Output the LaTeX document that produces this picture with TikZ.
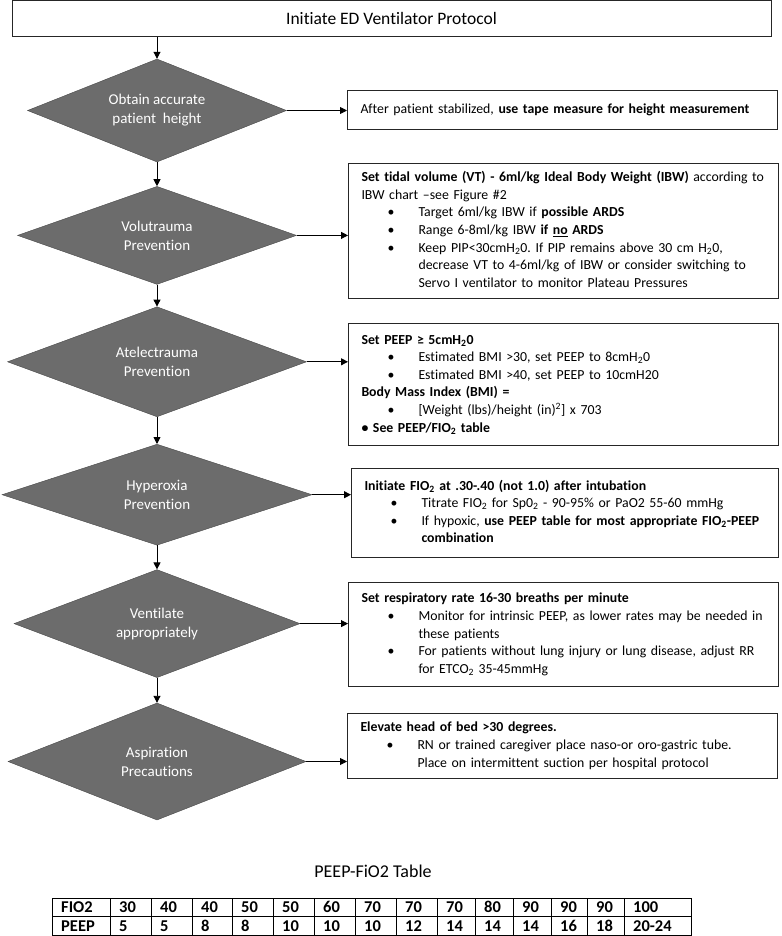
\documentclass[tikz,border=0pt]{standalone}
\usepackage{fontspec}
\setmainfont{Carlito}[Ligatures={NoCommon}]
\definecolor{DiaGrey}{RGB}{108,108,108}
\definecolor{EdgeGrey}{RGB}{72,72,72}
\usetikzlibrary{arrows.meta, positioning, shapes.geometric}
\newcommand{\hd}[1]{\multicolumn{3}{@{}l@{}}{#1}}
\newcommand{\sbt}[1]{\textsubscript{#1}}
\frenchspacing

\begin{document}
\begin{tikzpicture}[x=1pt, y=-1pt,
    node distance=24pt,
    titlebox/.style={rectangle, draw=black!85, line width=0.9pt, minimum width=759pt,
                     minimum height=36pt, font=\fontsize{17.5}{22}\selectfont},
    decision/.style={diamond, aspect=2.6, draw=EdgeGrey, fill=DiaGrey, inner sep=0pt,
                     text=white, align=center, font=\fontsize{15}{19}\selectfont},
    info/.style={rectangle, draw=black!85, line width=1pt, anchor=north west, text width=404pt,
                 inner xsep=13pt, inner ysep=0pt, align=left, font=\fontsize{13.8}{17.6}\selectfont},
    cell/.style={anchor=base west, inner sep=0pt, font=\fontsize{16.5}{17}\selectfont\bfseries},
    arrow/.style={-{Triangle[length=7pt, width=7pt]}, line width=0.9pt}
]
\useasboundingbox (0,0) rectangle (781,936);

\node[titlebox] (title) at (391.5, 18.75) {Initiate ED Ventilator Protocol};

% decisions down the left
\node[decision, minimum width=259pt, minimum height=103pt] (height) at (157, 110.5) {Obtain accurate\\patient\ \ height};
\node[decision, minimum width=279pt, minimum height=98pt, below=24pt of height] (volu) {Volutrauma\\Prevention};
\node[decision, minimum width=299pt, minimum height=110pt, below=22pt of volu] (atel) {Atelectrauma\\Prevention};
\node[decision, minimum width=310pt, minimum height=101pt, below=27pt of atel] (hyper) {Hyperoxia\\Prevention};
\node[decision, minimum width=286pt, minimum height=108pt, below=24pt of hyper] (vent) {Ventilate\\appropriately};
\node[decision, minimum width=298pt, minimum height=117pt, below=25pt of vent] (aspir) {Aspiration\\Precautions};

% instruction boxes
\node[info, minimum height=39pt] (tape) at (347, 90) {After patient stabilized, \textbf{use tape measure for height measurement}};

\node[info, minimum height=135pt] (tidal) at (348, 163) {%
\begin{tabular}{@{}p{26pt}@{}p{31pt}@{}l@{}}
\hd{\textbf{Set tidal volume (VT) - 6ml/kg Ideal Body Weight (IBW)} according to}\\
\hd{IBW chart –see Figure \#2}\\
& \textbullet & Target 6ml/kg IBW if \textbf{possible ARDS}\\
& \textbullet & Range 6-8ml/kg IBW \textbf{if \underline{no} ARDS}\\
& \textbullet & Keep PIP<30cmH\sbt{2}0. If PIP remains above 30 cm H\sbt{2}0,\\
& & decrease VT to 4-6ml/kg of IBW or consider switching to\\
& & Servo I ventilator to monitor Plateau Pressures
\end{tabular}};

\node[info, minimum height=122pt] (peep) at (348, 323) {%
\begin{tabular}{@{}p{26pt}@{}p{31pt}@{}l@{}}
\hd{\textbf{Set PEEP ≥ 5cmH\sbt{2}0}}\\
& \textbullet & Estimated BMI >30, set PEEP to 8cmH\sbt{2}0\\
& \textbullet & Estimated BMI >40, set PEEP to 10cmH20\\
\hd{\textbf{Body Mass Index (BMI) =}}\\
& \textbullet & [Weight (lbs)/height (in)\textsuperscript{2}] x 703\\
\hd{\textbf{\textbullet\ See PEEP/FIO\sbt{2} table}}
\end{tabular}};

\node[info, text width=401pt, minimum height=89pt] (fio) at (351, 468) {%
\begin{tabular}{@{}p{26pt}@{}p{31pt}@{}l@{}}
\hd{\textbf{Initiate FIO\sbt{2} at .30-.40 (not 1.0) after intubation}}\\
& \textbullet & Titrate FIO\sbt{2} for Sp0\sbt{2} - 90-95\% or PaO2 55-60 mmHg\\
& \textbullet & If hypoxic, \textbf{use PEEP table for most appropriate FIO\sbt{2}-PEEP}\\
& & \textbf{combination}
\end{tabular}};

\node[info, minimum height=104pt] (rate) at (348, 582) {%
\begin{tabular}{@{}p{26pt}@{}p{31pt}@{}l@{}}
\hd{\textbf{Set respiratory rate 16-30 breaths per minute}}\\
& \textbullet & Monitor for intrinsic PEEP, as lower rates may be needed in\\
& & these patients\\
& \textbullet & For patients without lung injury or lung disease, adjust RR\\
& & for ETCO\sbt{2} 35-45mmHg
\end{tabular}};

\node[info, minimum height=65pt] (bed) at (347, 713) {%
\begin{tabular}{@{}p{26pt}@{}p{31pt}@{}l@{}}
\hd{\textbf{Elevate head of bed >30 degrees.}}\\
& \textbullet & RN or trained caregiver place naso-or oro-gastric tube.\\
& & Place on intermittent suction per hospital protocol
\end{tabular}};

% connectors
\draw[arrow] (title.south -| height.north) -- (height.north);
\draw[arrow] (height) -- (volu);
\draw[arrow] (volu) -- (atel);
\draw[arrow] (atel) -- (hyper);
\draw[arrow] (hyper) -- (vent);
\draw[arrow] (vent) -- (aspir);
\draw[arrow] (height.east) -- (height.east -| tape.west);
\draw[arrow] (volu.east) -- (volu.east -| tidal.west);
\draw[arrow] (atel.east) -- (atel.east -| peep.west);
\draw[arrow] (hyper.east) -- (hyper.east -| fio.west);
\draw[arrow] (vent.east) -- (vent.east -| rate.west);
\draw[arrow] (aspir.east) -- (aspir.east -| bed.west);

% PEEP-FiO2 table
\node[font=\fontsize{18}{22}\selectfont] (tabtitle) at (373, 871) {PEEP-FiO2 Table};
\draw[line width=0.9pt] (52,898) rectangle (691,935) (52,916.5) -- (691,916.5);
\foreach \cx/\fv/\pv [count=\i] in {52/FIO2/PEEP, 110/30/5, 151/40/5, 192/40/8, 232/50/8,
    273/50/10, 314/60/10, 355/70/10, 396/70/12, 437/70/14, 475/80/14, 513/90/14,
    551/90/16, 587/90/18, 624/100/20-24} {
  \draw[line width=0.9pt] (\cx,898) -- (\cx,935);
  \node[cell] (f\i) at (\cx+9, 912.8) {\fv};
  \node[cell] (p\i) at (\cx+9, 931.3) {\pv};
}
\end{tikzpicture}
\end{document}
